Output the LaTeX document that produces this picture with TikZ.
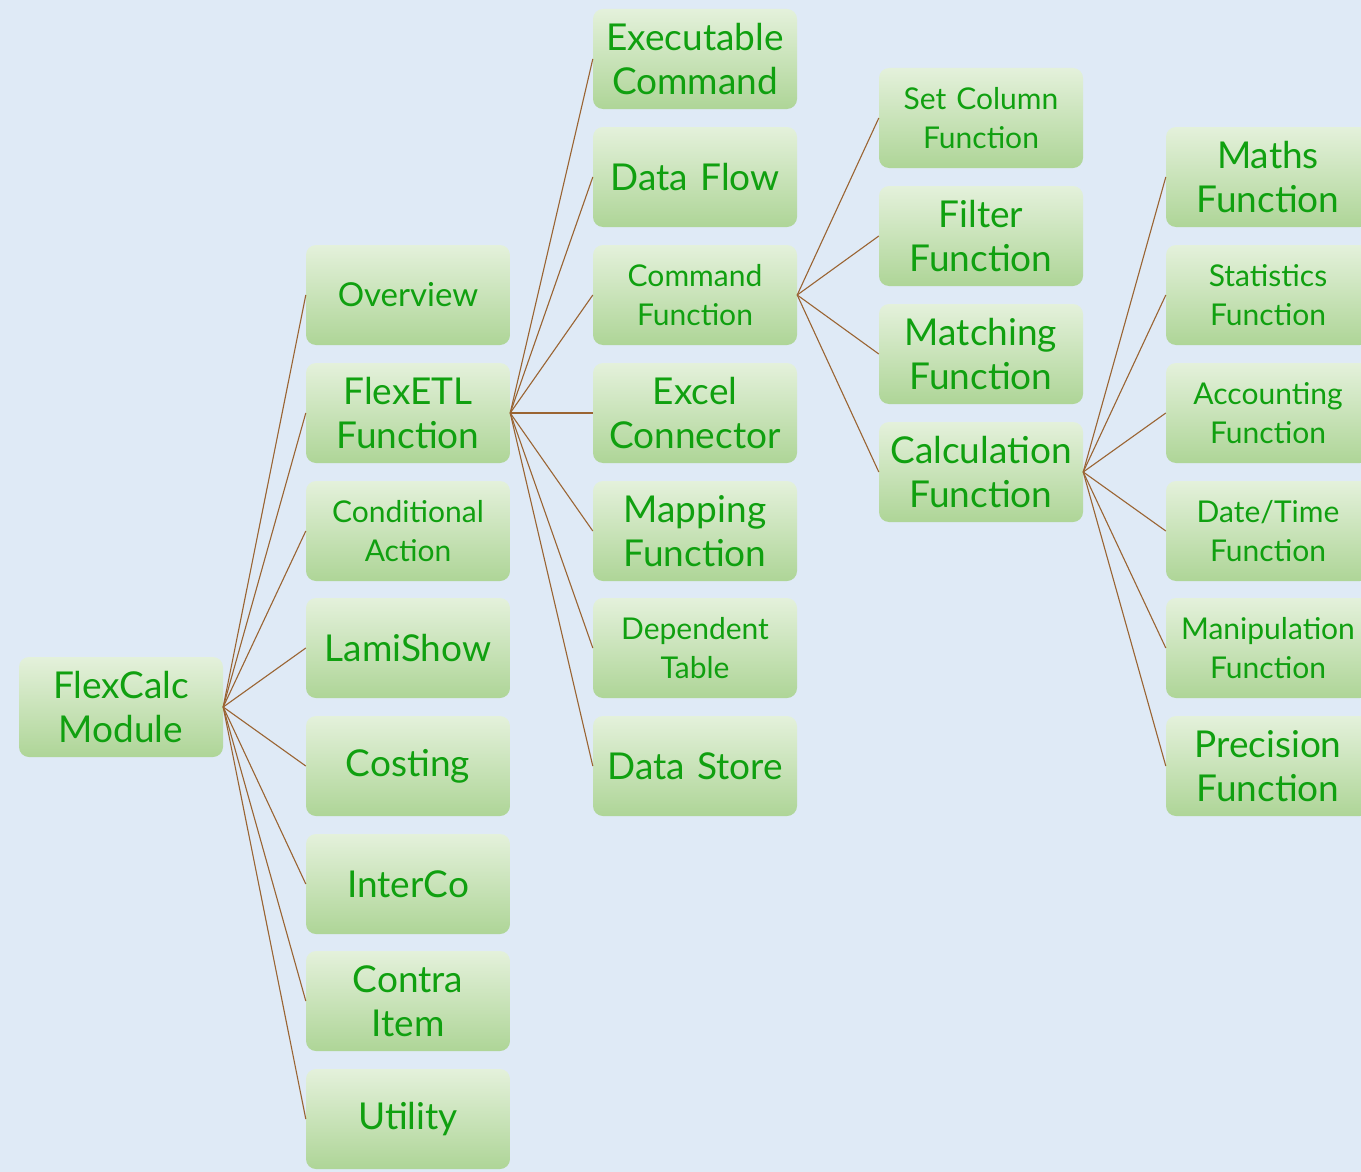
\documentclass[tikz,border=0pt]{standalone}
\usepackage{fontspec}
\setmainfont{Lato}
\definecolor{bg}{HTML}{DFEAF6}
\definecolor{topg}{HTML}{E4F1DB}
\definecolor{botg}{HTML}{AED597}
\definecolor{txtg}{HTML}{10A010}
\definecolor{edge}{HTML}{9A6432}
\tikzset{
  box/.style={rounded corners=10pt, top color=topg, bottom color=botg, draw=none,
    minimum width=204pt, minimum height=100pt, text width=202pt, align=center,
    text=txtg, inner sep=0pt},
  big/.style={font=\fontsize{37}{44}\selectfont},
  med/.style={font=\fontsize{33}{40}\selectfont},
  sml/.style={font=\fontsize{30}{39}\selectfont},
  link/.style={draw=edge, line width=1.1pt}
}
\begin{document}
\begin{tikzpicture}[x=1pt,y=-1pt]
\path[use as bounding box] (0,0) rectangle (1361,1172);
\clip (0,0) rectangle (1361,1172);
\fill[bg] (0,0) rectangle (1361,1172);
% root
\node[box,big] (root) at (121,707) {FlexCalc\\Module};
% column 2
\node[box,med] (ov) at (408,295) {Overview};
\node[box,big] (fe) at (408,413) {FlexETL\\Function};
\node[box,sml] (ca) at (408,531) {Conditional\\Action};
\node[box,big] (ls) at (408,648) {LamiShow};
\node[box,big] (co) at (408,766) {Costing};
\node[box,big] (ic) at (408,884) {InterCo};
\node[box,big] (ct) at (408,1001) {Contra\\Item};
\node[box,big] (ut) at (408,1119) {Utility};
% column 3
\node[box,big] (ec) at (695,59) {Executable\\Command};
\node[box,big] (df) at (695,177) {Data Flow};
\node[box,sml] (cf) at (695,295) {Command\\Function};
\node[box,big] (ex) at (695,413) {Excel\\Connector};
\node[box,big] (mp) at (695,531) {Mapping\\Function};
\node[box,sml] (dt) at (695,648) {Dependent\\Table};
\node[box,big] (ds) at (695,766) {Data Store};
% column 4
\node[box,sml] (sc) at (981,118) {Set Column\\Function};
\node[box,big] (fi) at (981,236) {Filter\\Function};
\node[box,big] (ma) at (981,354) {Matching\\Function};
\node[box,big] (cl) at (981,472) {Calculation\\Function};
% column 5
\node[box,big] (mt) at (1268,177) {Maths\\Function};
\node[box,sml] (st) at (1268,295) {Statistics\\Function};
\node[box,sml] (ac) at (1268,413) {Accounting\\Function};
\node[box,sml] (dtm) at (1268,531) {Date/Time\\Function};
\node[box,sml] (mn) at (1268,648) {Manipulation\\Function};
\node[box,big] (pr) at (1268,766) {Precision\\Function};
% connectors
\foreach \c in {ov,fe,ca,ls,co,ic,ct,ut} \draw[link] (root.east) -- (\c.west);
\foreach \c in {ec,df,cf,ex,mp,dt,ds} \draw[link] (fe.east) -- (\c.west);
\foreach \c in {sc,fi,ma,cl} \draw[link] (cf.east) -- (\c.west);
\foreach \c in {mt,st,ac,dtm,mn,pr} \draw[link] (cl.east) -- (\c.west);
\end{tikzpicture}
\end{document}
